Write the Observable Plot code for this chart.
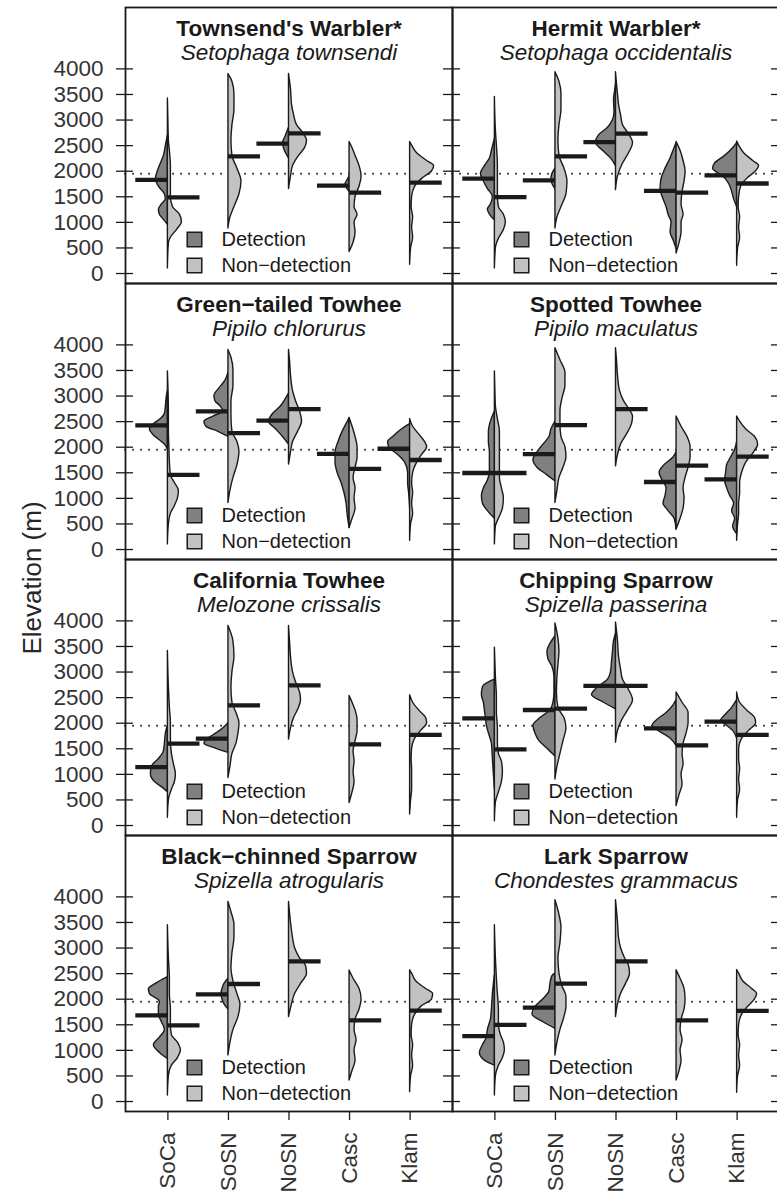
<!DOCTYPE html>
<html><head><meta charset="utf-8">
<script src="https://cdn.jsdelivr.net/npm/d3@7"></script>
<script src="https://cdn.jsdelivr.net/npm/@observablehq/plot@0.6"></script>
<style>
html,body{margin:0;padding:0;background:#fff;overflow:hidden;}
#wrap{position:relative;width:777px;height:1194px;overflow:hidden;background:#fff;}
#wrap svg{position:absolute;left:0;top:0;}
#ylab{position:absolute;left:32px;top:578px;transform:translate(-50%,-50%) rotate(-90deg);font:26px "Liberation Sans",Arial,sans-serif;color:#262626;white-space:nowrap;z-index:2;}
</style></head>
<body><div id="wrap"><div id="ylab">Elevation (m)</div></div>
<script>
// ---------- data ----------
const regions = ["SoCa","SoSN","NoSN","Casc","Klam"];
const groups = ["Detection","Non\u2212detection"];
const commonNames = ["Townsend's Warbler*","Hermit Warbler*","Green\u2212tailed Towhee","Spotted Towhee",
  "California Towhee","Chipping Sparrow","Black\u2212chinned Sparrow","Lark Sparrow"];
const sciNames = ["Setophaga townsendi","Setophaga occidentalis","Pipilo chlorurus","Pipilo maculatus",
  "Melozone crissalis","Spizella passerina","Spizella atrogularis","Chondestes grammacus"];
const yTicks = [0,500,1000,1500,2000,2500,3000,3500,4000];
const dottedElevation = 1950;

// medians (m) per region: SoCa, SoSN, NoSN, Casc, Klam
const detMedians = [
  [1830,null,2540,1720,null],
  [1855,1820,2570,1615,1920],
  [2425,2700,2520,1870,1970],
  [1496,1866,null,1320,1370],
  [1140,1700,null,null,null],
  [2095,2258,2730,1900,2030],
  [1683,2095,null,null,null],
  [1280,1835,null,null,null]];
const nonMedians = [
  [1490,2290,2740,1580,1775],
  [1495,2290,2735,1580,1760],
  [1460,2275,2745,1575,1750],
  [1496,2430,2745,1640,1815],
  [1600,2350,2740,1585,1770],
  [1490,2285,2730,1565,1770],
  [1488,2297,2740,1586,1775],
  [1500,2303,2740,1586,1770]];

// violin half profiles: [region, D=detection / N=non-detection, [elevation, density, ...]]
const townsendProfiles = [
  ["SoCa","D",[950,0,1050,4,1150,8,1250,9,1350,6,1450,2,1550,3,1700,9,1850,12,2000,10,2150,7,2300,4,2500,2,2700,0]],
  ["SoCa","N",[100,0,600,1,700,3,850,9,1000,14,1150,12,1300,5,1500,3,1800,3,2100,3,2400,2,2600,1,3000,0.5,3420,0]],
  ["SoSN","N",[880,0,1100,2,1300,6,1550,11,1800,13,2050,9,2300,4,2600,3,2900,4,3200,6,3500,6,3750,4,3900,0]],
  ["NoSN","D",[2250,0,2350,3,2450,5,2550,6,2650,4,2750,2,2850,0]],
  ["NoSN","N",[1650,0,1900,2,2100,4,2300,10,2450,16,2600,18,2750,14,2900,8,3100,5,3300,3,3600,2,3900,0]],
  ["Casc","D",[1600,0,1680,3,1750,4,1820,2,1900,0]],
  ["Casc","N",[420,0,600,4,800,6,1000,5,1150,8,1300,5,1500,6,1700,10,1900,12,2100,10,2300,6,2450,3,2570,0]],
  ["Klam","N",[170,0,500,1,700,3,900,2,1100,3,1300,1.5,1500,2,1700,5,1850,12,2000,22,2100,24,2200,17,2350,7,2500,2,2570,0]]];
const hermitProfiles = [
  ["SoCa","D",[1040,0,1150,5,1250,7,1350,4,1500,2,1650,7,1800,11,1950,14,2100,10,2250,5,2400,3,2630,0]],
  ["SoCa","N",[100,0,500,1,680,4,850,9,1000,11,1150,9,1300,4,1500,3,1800,3,2100,3,2500,2,2800,1,3450,0]],
  ["SoSN","D",[1650,0,1750,3,1850,4,1950,3,2050,0]],
  ["SoSN","N",[880,0,1100,2,1300,6,1550,11,1800,12,2050,9,2300,4,2600,3,2900,4,3200,6,3500,6,3750,4,3935,0]],
  ["NoSN","D",[2100,0,2250,5,2400,13,2550,20,2700,17,2850,8,3000,3,3150,1.5,3400,2,3550,1,3700,0]],
  ["NoSN","N",[1630,0,1900,2,2150,7,2350,13,2550,17,2750,12,2900,7,3100,5,3300,3,3500,2,3700,1,3935,0]],
  ["Casc","D",[480,0,650,3,800,6,1000,5,1150,8,1300,10,1500,14,1650,16,1850,15,2050,11,2250,6,2400,3,2550,0]],
  ["Casc","N",[390,0,600,3,800,5,1000,5,1150,7,1350,5,1600,6,1800,8,2000,9,2200,7,2400,4,2570,0]],
  ["Klam","D",[1300,0,1450,3,1600,5,1750,8,1900,14,2050,24,2150,22,2300,12,2450,4,2550,0]],
  ["Klam","N",[150,0,500,1,700,3,900,2,1100,3,1300,1.5,1500,2,1700,4,1850,10,2000,19,2100,22,2200,16,2350,7,2500,2,2580,0]]];
const greenTailedProfiles = [
  ["SoCa","D",[1950,0,2050,3,2150,9,2250,15,2350,18,2450,14,2550,7,2650,3,2800,2,3000,1,3100,0]],
  ["SoCa","N",[100,0,500,1,700,3,850,7,1000,10,1150,11,1300,7,1450,3,1700,2,2000,1.5,2300,1,2700,1,3480,0]],
  ["SoSN","D",[2200,0,2300,10,2400,22,2500,24,2600,15,2700,5,2800,8,2900,13,3000,14,3150,9,3300,3,3450,0]],
  ["SoSN","N",[910,0,1150,2,1400,5,1650,9,1900,11,2100,9,2300,4,2600,3,2900,3,3200,5,3500,5,3750,3,3900,0]],
  ["NoSN","D",[2050,0,2200,6,2350,13,2500,20,2650,16,2800,8,2950,3,3050,0]],
  ["NoSN","N",[1660,0,1900,2,2100,4,2300,9,2500,13,2700,11,2900,7,3100,4,3400,2,3700,1,3900,0]],
  ["Casc","D",[420,0,700,2,900,3,1100,5,1300,8,1500,12,1700,14,1900,14,2100,11,2300,7,2450,3,2570,0]],
  ["Casc","N",[420,0,600,3,800,6,1000,5,1200,6,1400,4,1600,6,1800,8,2000,8,2200,6,2400,3,2570,0]],
  ["Klam","D",[800,0,1100,1,1300,2,1500,2,1700,5,1850,12,2000,21,2100,22,2200,17,2350,8,2450,0]],
  ["Klam","N",[170,0,500,1,700,3,900,2,1100,3,1300,2,1500,3,1700,7,1850,12,2000,17,2100,15,2250,9,2400,3,2550,0]]];
const spottedProfiles = [
  ["SoCa","D",[600,0,750,7,900,12,1050,13,1200,11,1350,7,1500,5,1700,5,1900,5,2100,6,2300,6,2500,4,2700,0]],
  ["SoCa","N",[100,0,450,1,600,4,800,8,1000,9,1200,7,1400,5,1700,5,2000,5,2300,5,2550,3,2800,1,3100,0.5,3480,0]],
  ["SoSN","D",[1330,0,1450,8,1600,18,1750,22,1900,18,2050,12,2200,6,2350,4,2500,0]],
  ["SoSN","N",[910,0,1150,2,1400,4,1600,8,1800,11,2000,10,2200,6,2450,5,2700,5,2950,7,3200,10,3450,10,3700,5,3935,0]],
  ["NoSN","N",[1626,0,1850,2,2050,5,2250,11,2450,16,2600,17,2750,13,2900,8,3100,4,3400,2,3700,1,3935,0]],
  ["Casc","D",[390,0,600,2,750,8,900,13,1050,11,1200,10,1350,14,1500,17,1650,12,1800,3,1900,0]],
  ["Casc","N",[390,0,600,4,800,7,1000,8,1200,7,1400,9,1600,12,1800,14,2000,14,2200,11,2400,5,2600,0]],
  ["Klam","D",[300,0,450,4,600,2,750,5,900,3,1050,7,1200,10,1350,12,1500,11,1650,10,1800,6,1950,2,2100,0]],
  ["Klam","N",[170,0,500,1,700,2,900,2,1100,3,1300,3,1500,5,1700,9,1900,17,2050,21,2200,18,2350,9,2500,3,2600,0]]];
const californiaProfiles = [
  ["SoCa","D",[650,0,750,6,850,13,1000,17,1150,16,1300,9,1450,4,1600,3,1800,2,1950,0]],
  ["SoCa","N",[150,0,500,1,700,4,850,7,1000,8,1200,6,1400,4,1700,3,2000,3,2300,2,2700,1,3000,0.5,3410,0]],
  ["SoSN","D",[1420,0,1500,12,1600,24,1700,20,1800,12,1900,5,2000,0]],
  ["SoSN","N",[930,0,1150,2,1400,4,1600,8,1800,10,2000,11,2200,8,2400,4,2700,3,3000,4,3300,6,3600,5,3900,0]],
  ["NoSN","N",[1680,0,1900,2,2100,5,2300,10,2450,12,2600,11,2800,7,3000,4,3300,2,3600,1,3900,0]],
  ["Casc","N",[440,0,650,3,850,5,1050,4,1250,5,1450,4,1650,6,1850,8,2050,8,2250,6,2400,3,2530,0]],
  ["Klam","N",[215,0,500,1,700,2,900,2,1100,2,1300,1.5,1500,2,1700,5,1850,11,2000,17,2100,16,2250,9,2400,3,2545,0]]];
const chippingProfiles = [
  ["SoCa","D",[700,0,1000,1,1300,2,1600,3,1800,6,1950,8,2100,9,2250,10,2400,11,2550,13,2700,12,2800,6,2850,0]],
  ["SoCa","N",[85,0,450,1,650,4,850,7,1050,8,1250,7,1400,4,1600,3,1900,3,2200,2,2500,2,2900,1,3478,0]],
  ["SoSN","D",[1350,0,1500,8,1650,16,1800,20,1950,22,2100,15,2250,5,2400,2,2600,1,2900,1,3100,3,3250,7,3400,8,3550,5,3700,0]],
  ["SoSN","N",[900,0,1150,2,1400,5,1650,8,1900,11,2100,9,2300,3,2600,1.5,2900,2,3150,3,3400,4,3650,3,3950,0]],
  ["NoSN","D",[2270,0,2400,12,2550,24,2700,18,2850,8,3000,5,3200,4,3400,3,3600,2,3750,0]],
  ["NoSN","N",[1620,0,1850,2,2050,6,2250,12,2450,17,2650,13,2850,7,3050,5,3300,3,3600,2,3967,0]],
  ["Casc","D",[1550,0,1700,6,1850,18,1950,24,2050,20,2200,10,2350,3,2450,0]],
  ["Casc","N",[380,0,600,3,800,6,1000,5,1200,7,1400,6,1600,7,1800,10,2000,12,2200,12,2400,6,2600,0]],
  ["Klam","D",[1700,0,1850,4,1950,10,2050,16,2150,12,2300,5,2450,0]],
  ["Klam","N",[150,0,500,1,700,3,900,2,1100,3,1300,2,1500,2,1700,5,1850,12,2000,19,2100,18,2250,10,2400,3,2600,0]]];
const blackChinnedProfiles = [
  ["SoCa","D",[830,0,950,8,1100,14,1250,8,1400,3,1550,6,1700,9,1850,9,1950,8,2100,18,2200,19,2300,12,2430,0]],
  ["SoCa","N",[117,0,500,1,700,4,850,10,1000,13,1150,10,1300,4,1500,3,1800,3,2100,2,2400,2,2800,1,3445,0]],
  ["SoSN","D",[1800,0,1900,4,2000,6,2100,7,2200,6,2300,4,2400,0]],
  ["SoSN","N",[900,0,1150,2,1400,5,1650,10,1900,12,2100,9,2350,5,2600,3,2900,4,3200,6,3450,6,3700,3,3900,0]],
  ["NoSN","N",[1650,0,1900,3,2100,6,2300,12,2500,18,2650,17,2800,11,3000,6,3200,4,3500,2,3900,0]],
  ["Casc","N",[410,0,600,3,800,6,1000,5,1200,7,1400,5,1600,6,1800,10,2000,12,2200,10,2400,4,2560,0]],
  ["Klam","N",[183,0,500,1,700,3,900,2,1100,3,1300,1.5,1500,2,1700,5,1850,11,2000,22,2100,23,2200,16,2350,6,2500,2,2564,0]]];
const larkProfiles = [
  ["SoCa","D",[700,0,800,10,950,15,1100,12,1250,8,1400,7,1600,4,1800,3,2100,2,2466,0]],
  ["SoCa","N",[117,0,500,1,700,4,850,8,1000,10,1150,9,1300,6,1500,4,1800,4,2100,3,2400,2,2800,1,3445,0]],
  ["SoSN","D",[1420,0,1550,12,1700,23,1850,20,2000,12,2150,6,2300,5,2450,3,2500,0]],
  ["SoSN","N",[900,0,1150,2,1400,5,1650,9,1850,11,2050,11,2250,7,2500,4,2800,3,3100,5,3400,6,3650,4,3935,0]],
  ["NoSN","N",[1650,0,1900,2,2100,5,2300,10,2500,14,2650,13,2800,9,3000,5,3200,3,3500,2,3935,0]],
  ["Casc","N",[411,0,600,3,800,5,1000,4,1200,6,1400,4,1600,5,1800,8,2000,9,2200,8,2400,4,2564,0]],
  ["Klam","N",[170,0,500,1,700,3,900,2,1100,3,1300,1.5,1500,2,1700,5,1850,11,2000,18,2100,20,2200,15,2350,6,2500,2,2570,0]]];

// ---------- build tables ----------
const profileSets = [townsendProfiles, hermitProfiles, greenTailedProfiles, spottedProfiles,
  californiaProfiles, chippingProfiles, blackChinnedProfiles, larkProfiles];
const densityScale = 1 / 60.5;   // density units -> region units
const barLength = 0.53;

const violinRows = [];
profileSets.forEach((set, i) => {
  set.forEach(([region, g, flat]) => {
    const pos = regions.indexOf(region) + 1;
    for (let k = 0; k < flat.length; k += 2) {
      violinRows.push({col: i % 2, row: Math.floor(i / 2), pos, side: g === "D" ? -1 : 1,
        group: g === "D" ? groups[0] : groups[1], elev: flat[k], dens: flat[k + 1], key: `${i}-${region}-${g}`});
    }
  });
});
const medianRows = [];
commonNames.forEach((_, i) => {
  regions.forEach((r, j) => {
    if (detMedians[i][j] != null) medianRows.push({col: i % 2, row: Math.floor(i / 2), pos: j + 1, side: -1, elev: detMedians[i][j]});
    if (nonMedians[i][j] != null) medianRows.push({col: i % 2, row: Math.floor(i / 2), pos: j + 1, side: 1, elev: nonMedians[i][j]});
  });
});
const titleRows = commonNames.map((name, i) => ({col: i % 2, row: Math.floor(i / 2), name, sci: sciNames[i]}));

const font = '"Liberation Sans", Arial, Helvetica, sans-serif';
const ink = "#1a1a1a";

const chart = Plot.plot({
  width: 779, height: 1194,
  marginLeft: 125, marginRight: 0, marginTop: 6, marginBottom: 83,
  style: {fontFamily: font, fontSize: "22px", background: "white", maxWidth: "none", overflow: "visible"},
  fx: {domain: [0, 1], padding: 0, axis: null},
  fy: {domain: [0, 1, 2, 3], padding: 0, axis: null},
  x: {domain: [0.3, 5.7], axis: null},
  y: {domain: [-195, 5200], axis: null},
  color: {domain: groups, range: ["#808080", "#c2c2c2"]},
  marks: [
    Plot.ruleY([dottedElevation], {stroke: ink, strokeWidth: 1.8, strokeDasharray: "0.1,7.9", strokeLinecap: "round"}),
    Plot.areaX(violinRows, {fx: "col", fy: "row", y: "elev", x1: "pos",
      x2: d => d.pos + d.side * d.dens * densityScale, z: "key", fill: "group",
      stroke: ink, strokeWidth: 1.4, strokeLinejoin: "round", curve: "monotone-y"}),
    Plot.ruleY(medianRows, {fx: "col", fy: "row", y: "elev",
      x1: d => d.side < 0 ? d.pos - barLength : d.pos,
      x2: d => d.side < 0 ? d.pos : d.pos + barLength,
      stroke: ink, strokeWidth: 4.3}),
    Plot.text(titleRows, {fx: "col", fy: "row", text: "name", frameAnchor: "top", lineAnchor: "middle", dy: 21,
      fontSize: 22.5, fontWeight: "bold", fill: ink}),
    Plot.text(titleRows, {fx: "col", fy: "row", text: "sci", frameAnchor: "top", lineAnchor: "middle", dy: 45,
      fontSize: 22.5, fontStyle: "italic", fill: ink}),
    Plot.dot([groups[0]], {frameAnchor: "bottom-left", dx: 69, dy: -44, symbol: "square", r: 8.2,
      fill: "#808080", stroke: ink, strokeWidth: 1.5}),
    Plot.dot([groups[1]], {frameAnchor: "bottom-left", dx: 69, dy: -18, symbol: "square", r: 8.2,
      fill: "#c2c2c2", stroke: ink, strokeWidth: 1.5}),
    Plot.text([groups[0]], {text: d => d, frameAnchor: "bottom-left", dx: 96, dy: -44, textAnchor: "start",
      lineAnchor: "middle", fontSize: 20, fill: ink}),
    Plot.text([groups[1]], {text: d => d, frameAnchor: "bottom-left", dx: 96, dy: -18, textAnchor: "start",
      lineAnchor: "middle", fontSize: 20, fill: ink}),
    Plot.frame({stroke: ink, strokeWidth: 1.8}),
    Plot.axisY({ticks: yTicks, tickSize: 17, dx: 8, fill: "none", label: null, facetAnchor: null, stroke: ink, strokeWidth: 1.3}),
    Plot.axisY({anchor: "right", ticks: yTicks, tickSize: 9, dx: -9, fill: "none", label: null, stroke: ink, strokeWidth: 1.3}),
    Plot.axisY({ticks: yTicks, tickSize: 0, tickPadding: 22, tickFormat: d => String(d), fontSize: 22.5, label: null, fill: "#333"}),
    Plot.axisX({ticks: [1, 2, 3, 4, 5], tickFormat: d => regions[d - 1], tickRotate: -90, tickSize: 9,
      tickPadding: 12, fontSize: 22.5, label: null, fill: "#333", stroke: ink, strokeWidth: 1.3})
  ]
});
document.getElementById("wrap").appendChild(chart);
</script>
</body></html>
